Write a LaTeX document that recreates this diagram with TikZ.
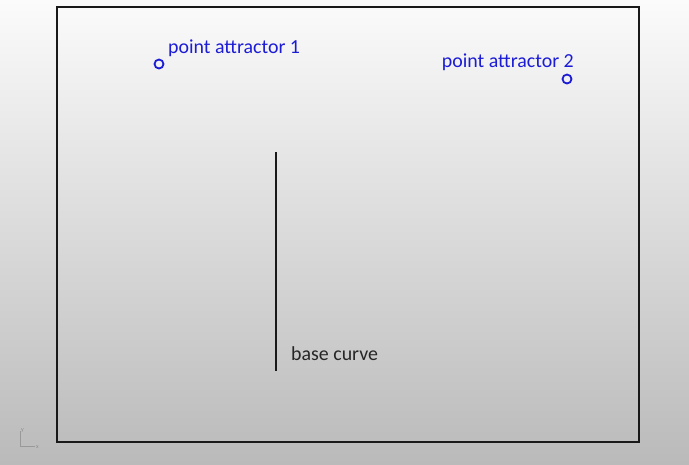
\documentclass[tikz,border=0pt]{standalone}
\usepackage{fontspec}
\setmainfont{Carlito}
\begin{document}
\begin{tikzpicture}[x=1pt,y=-1pt,
  attr/.style={circle,draw=ptblue,line width=1.8pt,minimum size=9pt,inner sep=0pt},
  lbl/.style={font=\fontsize{19.9}{22}\selectfont,inner sep=0pt},
  axlbl/.style={font=\fontsize{6}{7}\selectfont,text=gray!90,inner sep=0pt}]
\definecolor{ptblue}{RGB}{28,28,214}
\definecolor{bgtop}{RGB}{251,251,251}
\definecolor{bgbot}{RGB}{186,186,186}
\shade[top color=bgtop,bottom color=bgbot] (0,0) rectangle (689,464);
\useasboundingbox (0,0) rectangle (689,464);
\draw[line width=2.2pt,black!90] (57,7) rectangle (639,442);
% attractors
\node[attr] (p1) at (159,64) {};
\node[attr] (p2) at (567,79) {};
\node[lbl,text=ptblue,anchor=west] (l1) at (168,48) {point attractor 1};
\node[lbl,text=ptblue,anchor=east] (l2) at (574,62) {point attractor 2};
% base curve
\coordinate (c1) at (276,152);
\coordinate (c2) at (276,371);
\draw[line width=1.8pt,black!90] (c1) -- (c2);
\node[lbl,text=black!85,anchor=west] (bl) at (291,354) {base curve};
% axis icon
\coordinate (o) at (20.5,446);
\coordinate (ay) at (20.5,431);
\coordinate (ax) at (35,446);
\draw[gray!80,line width=0.6pt] (ay) -- (o) -- (ax);
\node[axlbl,anchor=south west] (yl) at (21,433) {y};
\node[axlbl,anchor=west] (xl) at (36,447) {x};
\end{tikzpicture}
\end{document}
